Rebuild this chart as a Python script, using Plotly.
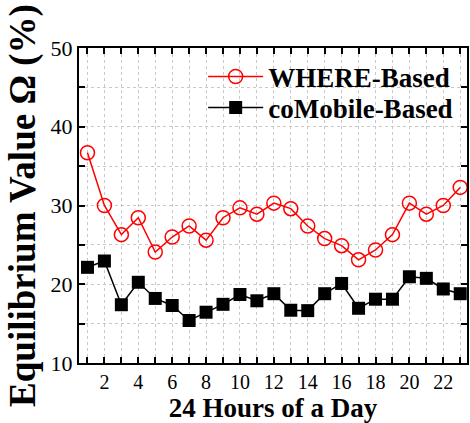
import plotly.graph_objects as go

hours = list(range(1, 24))
where_based = [36.7, 30.0, 26.3, 28.45, 24.1, 26.0, 27.4, 25.6, 28.45, 29.7, 28.9, 30.3,
               29.6, 27.4, 25.8, 24.9, 23.1, 24.35, 26.3, 30.3, 28.9, 30.0, 32.3]
comobile_based = [22.15, 22.95, 17.4, 20.25, 18.2, 17.3, 15.4, 16.45, 17.45, 18.7, 17.9, 18.8,
                  16.7, 16.65, 18.8, 20.1, 16.95, 18.1, 18.1, 20.95, 20.75, 19.4, 18.8]

FONT = "Liberation Serif"

fig = go.Figure()
fig.add_trace(go.Scatter(
    x=hours, y=where_based, name="<b>WHERE-Based</b>", mode="lines+markers",
    line=dict(color="#ff0000", width=1.5),
    marker=dict(symbol="circle-open", size=14, color="#ff0000", line=dict(width=1.5)),
    legend="legend",
))
fig.add_trace(go.Scatter(
    x=hours, y=comobile_based, name="<b>coMobile-Based</b>", mode="lines+markers",
    line=dict(color="#000000", width=1.5),
    marker=dict(symbol="square", size=13, color="#000000"),
    legend="legend2",
))

leg_common = dict(xanchor="left", yanchor="middle",
                  font=dict(family=FONT, size=27, color="black"),
                  bgcolor="rgba(0,0,0,0)", itemwidth=55, borderwidth=0)

fig.update_layout(
    width=470, height=423,
    margin=dict(l=79, r=1, t=48, b=60),
    paper_bgcolor="white", plot_bgcolor="white",
    font=dict(family=FONT, color="black"),
    showlegend=True,
    legend=dict(x=0.32, y=0.908, **leg_common),
    legend2=dict(x=0.32, y=0.81, **leg_common),
)
fig.update_xaxes(
    range=[0.5, 23.4], tickmode="linear", tick0=0, dtick=2,
    showline=True, linecolor="black", linewidth=2, mirror="allticks",
    ticks="inside", ticklen=6, tickwidth=1.5, tickcolor="black",
    tickfont=dict(family=FONT, size=20, color="black"),
    showgrid=True, gridcolor="#c8c8c8", griddash="dot", gridwidth=1,
    minor=dict(dtick=1, tick0=0, ticks="inside", ticklen=6, tickwidth=1.5, tickcolor="black",
               showgrid=True, gridcolor="#c8c8c8", griddash="dot", gridwidth=1),
    title=dict(text="<b>24 Hours of a Day</b>", font=dict(family=FONT, size=27, color="black"), standoff=0),
    zeroline=False,
)
fig.update_yaxes(
    range=[10, 50], tickmode="linear", tick0=0, dtick=10,
    showline=True, linecolor="black", linewidth=2, mirror="allticks",
    ticks="inside", ticklen=6, tickwidth=1.5, tickcolor="black",
    tickfont=dict(family=FONT, size=22, color="black"),
    showgrid=True, gridcolor="#c8c8c8", griddash="dot", gridwidth=1,
    minor=dict(dtick=5, tick0=0, ticks="inside", ticklen=6, tickwidth=1.5, tickcolor="black",
               showgrid=True, gridcolor="#c8c8c8", griddash="dot", gridwidth=1),
    title=dict(text="<b>Equilibrium Value Ω (%)</b>", font=dict(family=FONT, size=37, color="black"), standoff=4),
    zeroline=False,
)

fig.write_html("out.html")
